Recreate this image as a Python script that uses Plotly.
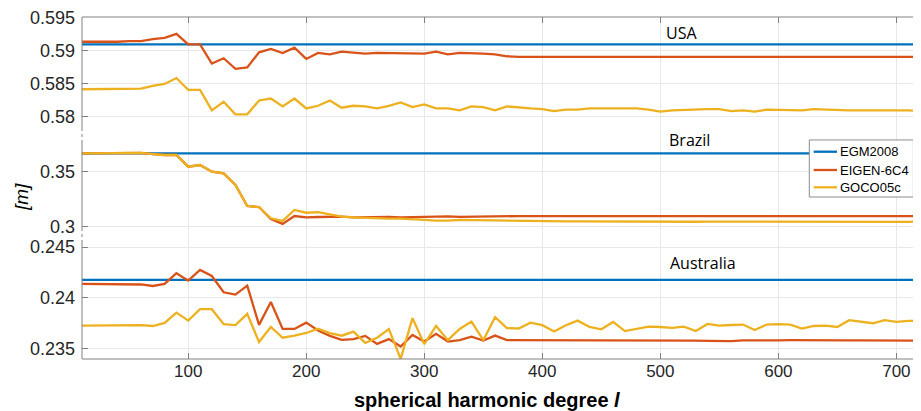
import plotly.graph_objects as go
from plotly.subplots import make_subplots

degrees = list(range(10, 730, 10))

usa_egm = [0.5910] * 72
usa_eigen = [0.5914, 0.5914, 0.5913, 0.5914, 0.5915, 0.5915, 0.5918, 0.5920, 0.5926, 0.5910,
             0.5910, 0.5881, 0.5889, 0.5873, 0.5875, 0.5898, 0.5903, 0.5897, 0.5905, 0.5888,
             0.5897, 0.5895, 0.5899, 0.5897, 0.5896, 0.5897, 0.5897, 0.5897, 0.5897, 0.5896,
             0.5899, 0.5895, 0.5897, 0.5897, 0.5896, 0.5895, 0.5892,
             0.5891, 0.5891, 0.5891, 0.5891, 0.5891, 0.5891, 0.5891, 0.5891, 0.5891, 0.5891,
             0.5891, 0.5891, 0.5890, 0.5890, 0.5890, 0.5890, 0.5891, 0.5891, 0.5891, 0.5891,
             0.5891, 0.5891, 0.5891, 0.5891, 0.5891, 0.5891, 0.5891, 0.5891, 0.5891, 0.5891,
             0.5891, 0.5891, 0.5891, 0.5891, 0.5891]
usa_goco = [0.5842, 0.5842, 0.5842, 0.5842, 0.5843, 0.5843, 0.5847, 0.5850, 0.5859, 0.5841,
            0.5841, 0.5810, 0.5823, 0.5804, 0.5804, 0.5825, 0.5828, 0.5816, 0.5828, 0.5813,
            0.5817, 0.5825, 0.5814, 0.5817, 0.5816, 0.5813, 0.5817, 0.5822, 0.5815, 0.5819,
            0.5813, 0.5813, 0.5810,
            0.5816, 0.5815, 0.5810, 0.5816, 0.5814, 0.5813, 0.5812, 0.5809, 0.5811, 0.5811,
            0.5813, 0.5813, 0.5813, 0.5813, 0.5813, 0.5811, 0.5808, 0.5810, 0.5811, 0.5812,
            0.5812, 0.5812, 0.5809, 0.5810, 0.5808, 0.5811, 0.5811, 0.5811, 0.5810, 0.5812,
            0.5811, 0.5811, 0.5810, 0.5810, 0.5810, 0.5811, 0.5811, 0.5810, 0.5809]

brazil_egm = [0.3667] * 72
brazil_goco = [0.3667, 0.3667, 0.3667, 0.3667, 0.3667, 0.3672, 0.3661, 0.3652, 0.3652, 0.3546,
               0.3561, 0.3500, 0.3485, 0.3379, 0.3188, 0.3179, 0.3076, 0.3052, 0.3152, 0.3127,
               0.3133, 0.3109, 0.3091, 0.3085, 0.3080, 0.3073, 0.3073, 0.3073, 0.3070, 0.3061,
               0.3055, 0.3055, 0.3062, 0.3060, 0.3058, 0.3055, 0.3052, 0.3050, 0.3048, 0.3052,
               0.3047, 0.3048, 0.3049, 0.3048, 0.3047, 0.3046, 0.3047, 0.3047, 0.3046, 0.3045,
               0.3046, 0.3046, 0.3045, 0.3046, 0.3046, 0.3045, 0.3046, 0.3045, 0.3045, 0.3046,
               0.3045, 0.3044, 0.3045, 0.3045, 0.3044, 0.3042, 0.3041, 0.3041, 0.3041, 0.3041,
               0.3044, 0.3049]
brazil_eigen = [0.3667, 0.3667, 0.3667, 0.3667, 0.3667, 0.3672, 0.3661, 0.3652, 0.3652, 0.3546,
                0.3561, 0.3500, 0.3485, 0.3379, 0.3188, 0.3179, 0.3070, 0.3025, 0.3097, 0.3085,
                0.3088, 0.3091, 0.3091, 0.3085, 0.3088, 0.3085, 0.3088, 0.3085, 0.3088, 0.3088,
                0.3091, 0.3094, 0.3090, 0.3092,
                0.3096, 0.3096, 0.3096, 0.3096, 0.3096, 0.3096, 0.3096, 0.3096, 0.3096, 0.3096,
                0.3096, 0.3096, 0.3096, 0.3096, 0.3096, 0.3096, 0.3096, 0.3096, 0.3096, 0.3096,
                0.3096, 0.3096, 0.3096, 0.3096, 0.3096, 0.3096, 0.3096, 0.3096, 0.3096, 0.3096,
                0.3096, 0.3096, 0.3096, 0.3096, 0.3096, 0.3096, 0.3096, 0.3096]

australia_egm = [0.24175] * 72
australia_eigen = [0.24135, 0.24135, 0.24135, 0.24130, 0.24128, 0.24130, 0.24115, 0.24135, 0.24241, 0.24168,
                   0.24273, 0.24214, 0.24053, 0.24030, 0.24118, 0.23731, 0.23957, 0.23691, 0.23691, 0.23753,
                   0.23675, 0.23622, 0.23583, 0.23590, 0.23622, 0.23543, 0.23590, 0.23517, 0.23632, 0.23566,
                   0.23642, 0.23566, 0.23580, 0.23615, 0.23576, 0.23625, 0.23580,
                   0.23580, 0.23578, 0.23582, 0.23580, 0.23578, 0.23580, 0.23580, 0.23580, 0.23578, 0.23580,
                   0.23580, 0.23578, 0.23577, 0.23578, 0.23577, 0.23575, 0.23573, 0.23570, 0.23570, 0.23577,
                   0.23575, 0.23576, 0.23578, 0.23580, 0.23578, 0.23576, 0.23576, 0.23576, 0.23577, 0.23578,
                   0.23578, 0.23578, 0.23577, 0.23578, 0.23576]
australia_goco = [0.23724, 0.23724, 0.23726, 0.23728, 0.23724, 0.23728, 0.23720, 0.23750, 0.23852, 0.23773,
                  0.23886, 0.23886, 0.23738, 0.23728, 0.23840, 0.23563, 0.23710, 0.23604, 0.23624, 0.23651,
                  0.23693, 0.23650, 0.23624, 0.23664, 0.23553, 0.23604, 0.23690, 0.23395, 0.23797, 0.23541,
                  0.23720, 0.23580, 0.23690, 0.23763, 0.23580, 0.23807, 0.23700, 0.23695, 0.23753, 0.23728,
                  0.23665, 0.23728, 0.23773, 0.23710, 0.23687, 0.23760, 0.23670, 0.23690, 0.23714, 0.23710,
                  0.23701, 0.23714, 0.23670, 0.23740, 0.23724, 0.23730, 0.23734, 0.23680, 0.23734, 0.23738,
                  0.23734, 0.23695, 0.23720, 0.23724, 0.23710, 0.23777, 0.23763, 0.23747, 0.23777, 0.23760,
                  0.23770, 0.23770]

series_names = ["EGM2008", "EIGEN-6C4", "GOCO05c"]
colors = ["#0072BD", "#D95319", "#EDB120"]
region_labels = ["USA", "Brazil", "Australia"]

panels = [
    (usa_egm, usa_eigen, usa_goco),
    (brazil_egm, brazil_eigen, brazil_goco),
    (australia_egm, australia_eigen, australia_goco),
]

fig = make_subplots(rows=3, cols=1, shared_xaxes=True, vertical_spacing=0)

for r, panel in enumerate(panels, start=1):
    for i, vals in enumerate(panel):
        fig.add_trace(go.Scatter(x=degrees, y=vals, mode="lines", name=series_names[i],
                                 line=dict(color=colors[i], width=2.3), showlegend=False),
                      row=r, col=1)

tickfont = dict(family="Liberation Sans, Arial, sans-serif", size=18, color="#262626")
gridc = "#e8e8e8"
linec = "#808080"

d_top = [0.65497, 1.0]
d_mid = [0.35380, 0.65497]
d_bot = [0.0, 0.35380]

common_y = dict(showgrid=True, gridcolor=gridc, ticks="inside", ticklen=6, tickcolor=linec,
                mirror="ticks", showline=False, zeroline=False, tickfont=tickfont,
                ticklabelstandoff=6, automargin=False)
fig.update_layout(
    yaxis=dict(domain=d_top, range=[0.57727, 0.59515],
               tickvals=[0.58, 0.585, 0.59, 0.595], ticktext=["0.58", "0.585", "0.59", "0.595"], **common_y),
    yaxis2=dict(domain=d_mid, range=[0.2897, 0.3834],
                tickvals=[0.3, 0.35], ticktext=["0.3", "0.35"], **common_y),
    yaxis3=dict(domain=d_bot, range=[0.23394, 0.24589],
                tickvals=[0.235, 0.24, 0.245], ticktext=["0.235", "0.24", "0.245"], **common_y),
)
xcommon = dict(range=[10, 720], tickvals=[100, 200, 300, 400, 500, 600, 700],
               showgrid=True, gridcolor=gridc, zeroline=False, automargin=False,
               tickfont=dict(family="Liberation Sans, Arial, sans-serif", size=17, color="#262626"))
fig.update_layout(
    xaxis=dict(side="top", ticks="inside", ticklen=6, tickcolor=linec, showticklabels=False, **xcommon),
    xaxis2=dict(ticks="", showticklabels=False, **xcommon),
    xaxis3=dict(ticks="inside", ticklen=6, tickcolor=linec, showticklabels=True, **xcommon),
)

# axes box with dotted junctions between stacked panels
shapes = []
for xp in (0, 1):
    segs = [(0.6696, 1.0, "solid"), (0.6316, 0.6696, "dot"), (0.3772, 0.6316, "solid"),
            (0.3392, 0.3772, "dot"), (0.0, 0.3392, "solid")]
    for y0, y1, dash in segs:
        shapes.append(dict(type="line", xref="paper", yref="paper", x0=xp, x1=xp, y0=y0, y1=y1,
                           line=dict(color=linec, width=1, dash=dash)))
for yp in (0, 1):
    shapes.append(dict(type="line", xref="paper", yref="paper", x0=0, x1=1, y0=yp, y1=yp,
                       line=dict(color=linec, width=1)))

# legend box (MATLAB style)
shapes.append(dict(type="rect", xref="paper", yref="paper", x0=0.8679, x1=0.9921, y0=0.4737, y1=0.6404,
                   fillcolor="white", line=dict(color="#8c8c8c", width=1)))
legend_rows = [0.6061, 0.5526, 0.5020]
legfont = dict(family="Liberation Sans, Arial, sans-serif", size=13, color="#000000")
annotations = []
for i, yy in enumerate(legend_rows):
    shapes.append(dict(type="line", xref="paper", yref="paper", x0=0.8731, x1=0.9010, y0=yy, y1=yy,
                       line=dict(color=colors[i], width=2.3)))
    annotations.append(dict(text=series_names[i], x=0.9022, y=yy, xref="paper", yref="paper",
                            xanchor="left", yanchor="middle", showarrow=False, font=legfont))

annfont = dict(family="Open Sans, Noto Sans, sans-serif", size=16, color="#000000")
annotations += [
    dict(text=region_labels[0], x=518, y=0.953, xref="x", yref="paper", yanchor="middle",
         showarrow=False, font=annfont),
    dict(text=region_labels[1], x=525, y=0.640, xref="x", yref="paper", yanchor="middle",
         showarrow=False, font=annfont),
    dict(text=region_labels[2], x=536, y=0.281, xref="x", yref="paper", yanchor="middle",
         showarrow=False, font=annfont),
    dict(text="<i>[m]</i>", x=-0.0716, y=0.4737, xref="paper", yref="paper", showarrow=False,
         xanchor="center", yanchor="middle", textangle=-90,
         font=dict(family="Liberation Sans, Arial, sans-serif", size=19, color="#000000")),
    dict(text="<b>spherical harmonic degree <i>l</i></b>", x=0.4833, y=-0.12, xref="paper", yref="paper",
         showarrow=False, xanchor="center", yanchor="middle",
         font=dict(family="Liberation Sans, Arial, sans-serif", size=20, color="#000000")),
]

# page body has an 8px default margin: shrink the figure so the plot lands in place
fig.update_layout(
    width=913, height=403,
    margin=dict(l=74, r=1, t=9, b=52),
    paper_bgcolor="white", plot_bgcolor="white",
    shapes=shapes, annotations=annotations,
    showlegend=False,
)

fig.write_html("out.html")
